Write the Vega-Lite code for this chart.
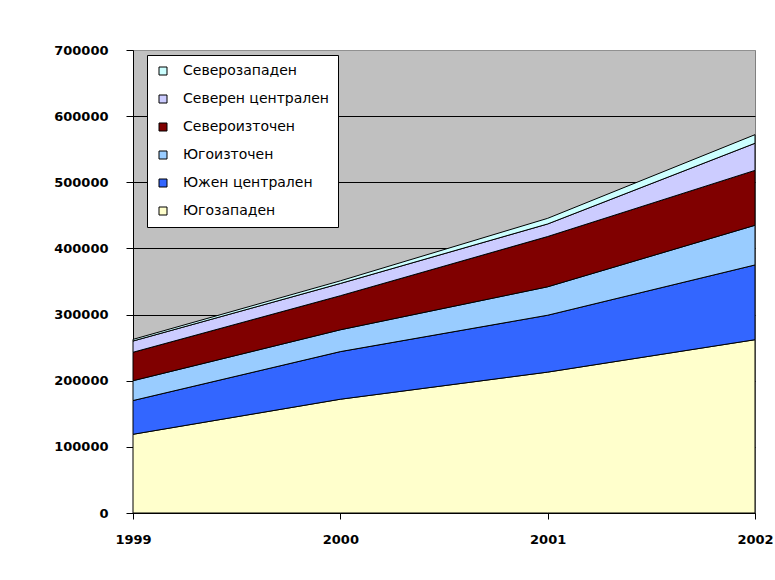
{
  "$schema": "https://vega.github.io/schema/vega-lite/v6.json",
  "width": 622,
  "height": 463,
  "autosize": "none",
  "padding": {"left": 133, "top": 50, "right": 20, "bottom": 67},
  "background": "white",
  "datasets": {
    "regions": [
      {"region": "Югозападен", "rank": 1},
      {"region": "Южен централен", "rank": 2},
      {"region": "Югоизточен", "rank": 3},
      {"region": "Североизточен", "rank": 4},
      {"region": "Северен централен", "rank": 5},
      {"region": "Северозападен", "rank": 6}
    ],
    "population": [
      {"year": 1999, "region": "Югозападен", "value": 119000},
      {"year": 1999, "region": "Южен централен", "value": 51000},
      {"year": 1999, "region": "Югоизточен", "value": 30000},
      {"year": 1999, "region": "Североизточен", "value": 43000},
      {"year": 1999, "region": "Северен централен", "value": 17000},
      {"year": 1999, "region": "Северозападен", "value": 2500},
      {"year": 2000, "region": "Югозападен", "value": 172000},
      {"year": 2000, "region": "Южен централен", "value": 72000},
      {"year": 2000, "region": "Югоизточен", "value": 33000},
      {"year": 2000, "region": "Североизточен", "value": 51500},
      {"year": 2000, "region": "Северен централен", "value": 18500},
      {"year": 2000, "region": "Северозападен", "value": 4000},
      {"year": 2001, "region": "Югозападен", "value": 213000},
      {"year": 2001, "region": "Южен централен", "value": 86000},
      {"year": 2001, "region": "Югоизточен", "value": 43000},
      {"year": 2001, "region": "Североизточен", "value": 76000},
      {"year": 2001, "region": "Северен централен", "value": 19000},
      {"year": 2001, "region": "Северозападен", "value": 8500},
      {"year": 2002, "region": "Югозападен", "value": 262000},
      {"year": 2002, "region": "Южен централен", "value": 113000},
      {"year": 2002, "region": "Югоизточен", "value": 60000},
      {"year": 2002, "region": "Североизточен", "value": 83000},
      {"year": 2002, "region": "Северен централен", "value": 41000},
      {"year": 2002, "region": "Северозападен", "value": 13000}
    ]
  },
  "data": {"name": "population"},
  "transform": [
    {"lookup": "region", "from": {"data": {"name": "regions"}, "key": "region", "fields": ["rank"]}}
  ],
  "mark": {"type": "area", "stroke": "black", "strokeWidth": 1, "opacity": 1},
  "encoding": {
    "x": {
      "field": "year",
      "type": "quantitative",
      "scale": {"domain": [1999, 2002], "nice": false, "zero": false},
      "axis": {
        "title": null,
        "values": [1999, 2000, 2001, 2002],
        "format": "d",
        "grid": false,
        "tickSize": 6,
        "labelPadding": 14,
        "labelFlush": false
      }
    },
    "y": {
      "field": "value",
      "type": "quantitative",
      "stack": "zero",
      "scale": {"domain": [0, 700000], "nice": false},
      "axis": {
        "title": null,
        "values": [0, 100000, 200000, 300000, 400000, 500000, 600000, 700000],
        "format": "d",
        "grid": true,
        "gridColor": {"condition": {"test": "datum.value == 700000", "value": "#909090"}, "value": "black"},
        "tickSize": 7,
        "labelPadding": 18
      }
    },
    "color": {
      "field": "region",
      "type": "nominal",
      "scale": {
        "domain": ["Югозападен", "Южен централен", "Югоизточен", "Североизточен", "Северен централен", "Северозападен"],
        "range": ["#FFFFCC", "#3366FF", "#99CCFF", "#800000", "#CCCCFF", "#CCFFFF"]
      },
      "legend": {
        "title": null,
        "values": ["Северозападен", "Северен централен", "Североизточен", "Югоизточен", "Южен централен", "Югозападен"],
        "orient": "none",
        "legendX": 14,
        "legendY": 5,
        "fillColor": "white",
        "strokeColor": "black",
        "padding": 9,
        "cornerRadius": 0,
        "symbolType": "square",
        "symbolSize": 64,
        "symbolStrokeColor": "black",
        "symbolStrokeWidth": 1,
        "symbolOpacity": 1,
        "labelOffset": 13,
        "rowPadding": 14,
        "labelFont": "DejaVu Sans",
        "labelFontSize": 14,
        "labelColor": "black",
        "labelLimit": 320
      }
    },
    "order": {"field": "rank", "type": "quantitative", "sort": "ascending"}
  },
  "config": {
    "view": {"fill": "#C0C0C0", "stroke": "#808080", "strokeWidth": 1},
    "axis": {
      "domainColor": "black",
      "domainWidth": 1,
      "tickColor": "black",
      "tickWidth": 1,
      "gridWidth": 1,
      "labelFont": "DejaVu Sans",
      "labelFontSize": 13,
      "labelFontWeight": "bold",
      "labelColor": "black"
    }
  }
}
